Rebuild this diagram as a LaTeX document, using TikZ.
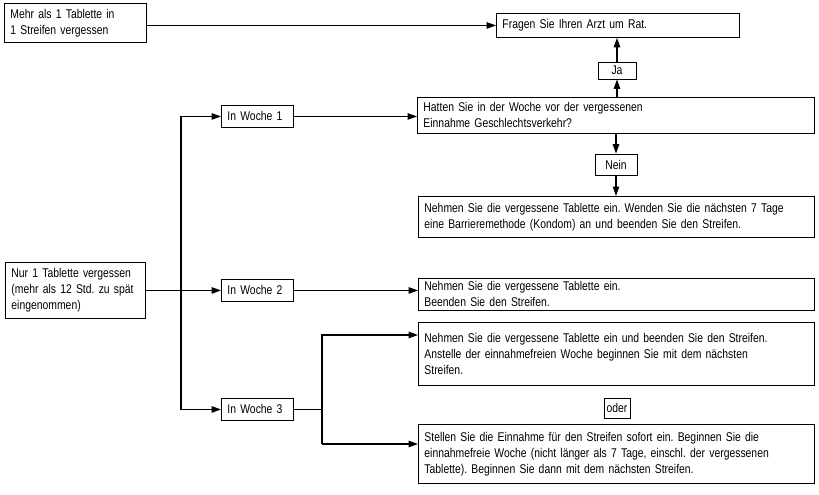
\documentclass[tikz,border=0pt]{standalone}
\usepackage{fontspec}
\setmainfont[FakeStretch=0.82]{Liberation Sans}
\usetikzlibrary{positioning,arrows.meta}

\begin{document}
\frenchspacing
\begin{tikzpicture}[x=0.75pt,y=-0.75pt,
		box/.style={draw, line width=0.7pt, anchor=north west, align=left, inner xsep=4.5pt, inner ysep=0pt, font=\fontsize{9.5}{12}\selectfont},
		tag/.style={draw, line width=0.7pt, inner sep=0pt, font=\fontsize{9.5}{12}\selectfont},
		pfeil/.style={-{Triangle[length=7pt,width=4.8pt]}, line width=0.9pt}]
		\useasboundingbox (0,0) rectangle (819,495);
		\node[box, text width=97.5pt, minimum height=29.25pt] (mehr) at (4,3) {Mehr als 1 Tablette in\\1 Streifen vergessen};
		\node[box, text width=173.25pt, minimum height=18pt] (arzt) at (496,13) {Fragen Sie Ihren Arzt um Rat.};
		\node[box, text width=288.75pt, minimum height=27pt] (frage) at (417,97) {Hatten Sie in der Woche vor der vergessenen\\Einnahme Geschlechtsverkehr?};
		\node[box, text width=288pt, minimum height=30.75pt] (barriere) at (418,196) {Nehmen Sie die vergessene Tablette ein. Wenden Sie die nächsten 7 Tage\\eine Barrieremethode (Kondom) an und beenden Sie den Streifen.};
		\node[box, text width=288pt, minimum height=24pt] (beenden) at (418,278) {Nehmen Sie die vergessene Tablette ein.\\Beenden Sie den Streifen.};
		\node[box, text width=288pt, minimum height=47.25pt] (weiter) at (418,322) {Nehmen Sie die vergessene Tablette ein und beenden Sie den Streifen.\\Anstelle der einnahmefreien Woche beginnen Sie mit dem nächsten\\Streifen.};
		\node[box, text width=288pt, minimum height=44.25pt] (pause) at (418,424) {Stellen Sie die Einnahme für den Streifen sofort ein. Beginnen Sie die\\einnahmefreie Woche (nicht länger als 7 Tage, einschl. der vergessenen\\Tablette). Beginnen Sie dann mit dem nächsten Streifen.};
		\node[box, text width=96pt, minimum height=42pt] (nur) at (5,262) {Nur 1 Tablette vergessen\\(mehr als 12 Std. zu spät\\eingenommen)};
		\node[box, text width=45pt, minimum height=16.5pt] (w1) at (221,105) {In Woche 1};
		\node[box, text width=45pt, minimum height=16.5pt] (w2) at (221,279) {In Woche 2};
		\node[box, text width=45pt, minimum height=16.5pt] (w3) at (221,398) {In Woche 3};
		\node[tag, minimum width=28.5pt, minimum height=12.75pt] (ja) at (617,70.5) {Ja};
		\node[tag, minimum width=31.5pt, minimum height=15.75pt] (nein) at (616,164.5) {Nein};
		\node[tag, minimum width=19.5pt, minimum height=15pt] (oder) at (617,408) {oder};
		\coordinate (knoten) at (181,290);
		\coordinate (gabel-o) at (322,335);
		\coordinate (gabel-u) at (322,444);
		\draw[pfeil] (mehr.east |- arzt.west) -- (arzt.west);
		\draw[pfeil] (ja.south |- frage.north) -- (ja.south);
		\draw[pfeil] (ja.north) -- (ja.north |- arzt.south);
		\draw[pfeil] (nein.north |- frage.south) -- (nein.north);
		\draw[pfeil] (nein.south) -- (nein.south |- barriere.north);
		\draw[pfeil] (nur.east |- w2.west) -- (w2.west);
		\draw[pfeil] (knoten |- w1.west) -- (w1.west);
		\draw[pfeil] (knoten |- w1.west) -- (knoten |- w3.west) -- (w3.west);
		\draw[pfeil] (w1.east) -- (w1.east -| frage.west);
		\draw[pfeil] (w2.east) -- (w2.east -| beenden.west);
		\draw[line width=0.9pt] (w3.east) -- (w3.east -| gabel-o);
		\draw[pfeil] (gabel-u) -- (gabel-o) -- (gabel-o -| weiter.west);
		\draw[pfeil] (gabel-u) -- (gabel-u -| pause.west);
\end{tikzpicture}
\end{document}
